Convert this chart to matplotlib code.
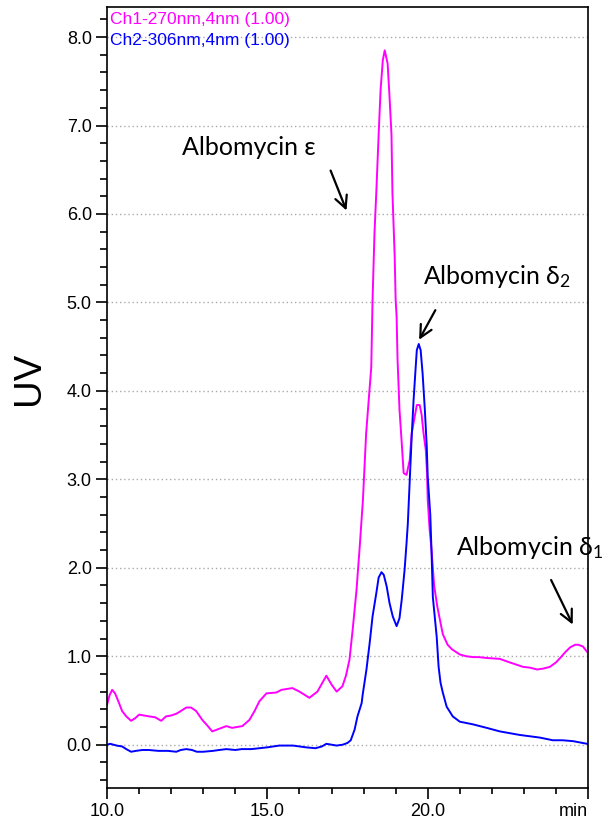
import matplotlib
matplotlib.use("Agg")
import matplotlib.pyplot as plt
from matplotlib.ticker import MultipleLocator, FixedLocator

plt.rcParams['font.family'] = ['Liberation Sans', 'DejaVu Sans']
plt.rcParams['mathtext.fontset'] = 'custom'
plt.rcParams['mathtext.rm'] = 'Lato'
plt.rcParams['mathtext.it'] = 'Lato:italic'

# Ch1 (270 nm) trace
ch1_t = [10.0, 10.08, 10.16, 10.25, 10.375, 10.47, 10.6, 10.75, 10.88, 11.0, 11.15, 11.31, 11.5,
         11.69, 11.84, 12.0, 12.16, 12.3, 12.47, 12.62, 12.78, 12.97, 13.12, 13.28, 13.5, 13.72,
         13.9, 14.05, 14.22, 14.44, 14.6, 14.75, 14.97, 15.28, 15.44, 15.78, 16.0, 16.31, 16.56,
         16.84, 17.0, 17.16, 17.34, 17.45, 17.56, 17.66, 17.78, 17.88, 17.98, 18.08, 18.24, 18.28,
         18.34, 18.4, 18.47, 18.53, 18.6, 18.66, 18.75, 18.81, 18.87, 18.9, 18.97, 19.0, 19.03,
         19.06, 19.12, 19.19, 19.25, 19.34, 19.44, 19.5, 19.59, 19.66, 19.75, 19.81, 19.87, 19.94,
         19.98, 20.0, 20.06, 20.12, 20.2, 20.3, 20.47, 20.62, 20.75, 21.0, 21.2, 21.41, 21.6,
         21.84, 22.25, 22.56, 22.97, 23.2, 23.41, 23.6, 23.81, 24.0, 24.13, 24.3, 24.44, 24.6,
         24.69, 24.84, 24.97]
ch1_uv = [0.45, 0.56, 0.62, 0.58, 0.47, 0.38, 0.32, 0.27, 0.30, 0.34, 0.33, 0.32, 0.31,
          0.27, 0.32, 0.33, 0.35, 0.38, 0.42, 0.42, 0.38, 0.28, 0.22, 0.15, 0.18, 0.21,
          0.19, 0.20, 0.21, 0.28, 0.38, 0.49, 0.58, 0.59, 0.62, 0.64, 0.60, 0.53, 0.60,
          0.78, 0.68, 0.60, 0.66, 0.78, 0.96, 1.30, 1.75, 2.24, 2.77, 3.52, 4.27, 5.03,
          5.78, 6.27, 6.90, 7.40, 7.74, 7.85, 7.70, 7.32, 6.90, 6.24, 5.52, 5.03, 4.84,
          4.35, 3.79, 3.41, 3.07, 3.05, 3.22, 3.52, 3.70, 3.84, 3.84, 3.73, 3.52, 3.33,
          3.07, 2.77, 2.43, 2.20, 1.80, 1.56, 1.25, 1.13, 1.08, 1.02, 1.00, 0.99, 0.99,
          0.98, 0.97, 0.93, 0.88, 0.87, 0.85, 0.86, 0.88, 0.93, 0.98, 1.05, 1.10, 1.13,
          1.13, 1.11, 1.05]

# Ch2 (306 nm) trace
ch2_t = [10.0, 10.1, 10.3, 10.47, 10.6, 10.75, 10.9, 11.1, 11.3, 11.6, 11.9, 12.16, 12.3, 12.47,
         12.65, 12.8, 13.0, 13.3, 13.5, 13.72, 14.0, 14.2, 14.5, 14.75, 15.0, 15.37, 15.6, 15.8,
         16.0, 16.2, 16.5, 16.7, 16.84, 17.0, 17.16, 17.35, 17.5, 17.6, 17.72, 17.81, 17.94,
         17.97, 18.09, 18.19, 18.28, 18.4, 18.47, 18.56, 18.63, 18.72, 18.81, 18.91, 19.03,
         19.12, 19.19, 19.28, 19.34, 19.38, 19.44, 19.5, 19.56, 19.62, 19.66, 19.72, 19.78,
         19.84, 19.91, 19.97, 20.0, 20.08, 20.12, 20.16, 20.28, 20.34, 20.4, 20.47, 20.59,
         20.78, 21.0, 21.41, 21.84, 22.25, 22.87, 23.5, 23.9, 24.2, 24.53, 24.97]
ch2_uv = [0.0, 0.01, -0.01, -0.02, -0.05, -0.08, -0.07, -0.06, -0.06, -0.07, -0.07, -0.08, -0.06,
          -0.05, -0.06, -0.08, -0.08, -0.07, -0.06, -0.05, -0.06, -0.05, -0.05, -0.04, -0.03,
          -0.01, -0.01, -0.01, -0.02, -0.03, -0.04, -0.02, 0.01, 0.0, -0.01, 0.0, 0.02, 0.05,
          0.17, 0.32, 0.47, 0.56, 0.85, 1.15, 1.45, 1.72, 1.89, 1.95, 1.92, 1.79, 1.60, 1.45,
          1.34, 1.43, 1.64, 1.98, 2.28, 2.50, 2.99, 3.48, 3.90, 4.24, 4.46, 4.53, 4.46, 4.20,
          3.79, 3.37, 3.03, 2.60, 2.17, 1.67, 1.22, 0.88, 0.70, 0.59, 0.43, 0.32, 0.26, 0.23,
          0.19, 0.15, 0.11, 0.08, 0.05, 0.05, 0.04, 0.01]

legend_labels = ["Ch1-270nm,4nm (1.00)", "Ch2-306nm,4nm (1.00)"]
x_major = [10.0, 15.0, 20.0, 25.0]
x_labels = ["10.0", "15.0", "20.0", "min"]

fig = plt.figure(figsize=(6.13, 8.23), dpi=100)
ax = fig.add_axes([0.1746, 0.0425, 0.7847, 0.949])

ax.plot(ch1_t, ch1_uv, color='#ff00ff', lw=1.4)
ax.plot(ch2_t, ch2_uv, color='#0000ff', lw=1.4)

ax.set_xlim(10.0, 25.0)
ax.set_ylim(-0.49, 8.34)

ax.xaxis.set_major_locator(FixedLocator(x_major))
ax.set_xticklabels(x_labels)
ax.xaxis.set_minor_locator(MultipleLocator(1.0))
ax.yaxis.set_major_locator(MultipleLocator(1.0))
ax.yaxis.set_minor_locator(MultipleLocator(0.2))
ax.yaxis.set_major_formatter(plt.FormatStrFormatter('%.1f'))
ax.xaxis.get_majorticklabels()[-1].set_horizontalalignment('right')

ax.tick_params(axis='both', which='major', labelsize=13, width=1.2, direction='out')
ax.tick_params(axis='y', which='major', length=8, pad=3)
ax.tick_params(axis='y', which='minor', length=5, width=1.2)
ax.tick_params(axis='x', which='major', length=8, pad=3)
ax.tick_params(axis='x', which='minor', length=4, width=1.2)
for s in ax.spines.values():
    s.set_linewidth(1.2)

ax.yaxis.grid(True, linestyle=(0, (1, 2)), color='#aaaaaa', lw=1)
ax.set_axisbelow(True)

ax.text(0.006, 0.9846, legend_labels[0], transform=ax.transAxes, color='#ff00ff',
        fontsize=12.5, va='center', ha='left')
ax.text(0.006, 0.9577, legend_labels[1], transform=ax.transAxes, color='#0000ff',
        fontsize=12.5, va='center', ha='left')

fig.text(0.047, 0.5407, 'UV', rotation=90, fontsize=27.5, va='center', ha='center')

arrow = dict(arrowstyle='->', color='black', lw=1.6, mutation_scale=22)
note_font = dict(fontsize=18, family='Lato', va='center', ha='left')
ax.text(12.34, 6.75, "Albomycin ε", **note_font)
ax.annotate('', xy=(17.5, 6.01), xytext=(16.94, 6.52), arrowprops=arrow)
ax.text(19.84, 5.29, "Albomycin δ$_2$", **note_font)
ax.annotate('', xy=(19.69, 4.55), xytext=(20.28, 4.94), arrowprops=arrow)
ax.text(20.875, 2.23, "Albomycin δ$_1$", **note_font)
ax.annotate('', xy=(24.56, 1.33), xytext=(23.81, 1.89), arrowprops=arrow)

fig.savefig('out.png', dpi=100)
